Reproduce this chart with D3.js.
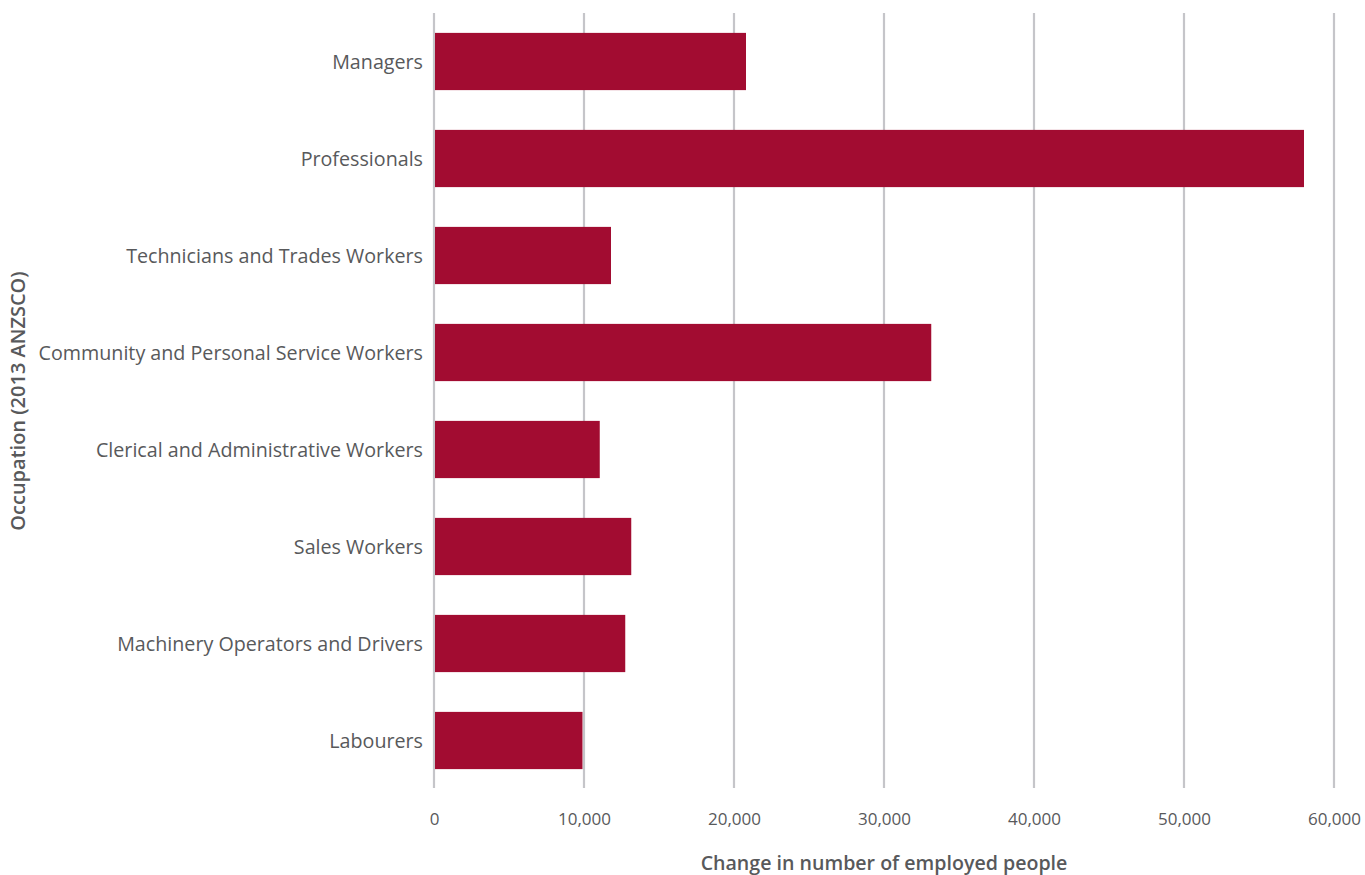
<!DOCTYPE html>
<html>
<head>
<meta charset="utf-8">
<script src="https://cdn.jsdelivr.net/npm/d3@7"></script>
<style>
  html, body { margin: 0; padding: 0; background: #fff; }
  svg { display: block; }
  text { font-family: "Open Sans", Lato, sans-serif; fill: #58595b; }
</style>
</head>
<body>
<svg id="chart" width="1365" height="875"></svg>
<script>
const categories = [
  "Managers",
  "Professionals",
  "Technicians and Trades Workers",
  "Community and Personal Service Workers",
  "Clerical and Administrative Workers",
  "Sales Workers",
  "Machinery Operators and Drivers",
  "Labourers"
];
const values = [20800, 58000, 11800, 33150, 11050, 13150, 12750, 9900];
const xTicks = [0, 10000, 20000, 30000, 40000, 50000, 60000];
const xTitle = "Change in number of employed people";
const yTitle = "Occupation (2013 ANZSCO)";

(function () {
const svg = d3.select("#chart");
const mLeft = 434, mRight = 1334, mTop = 13, mBottom = 789;
const FONT = "'Open Sans', Lato, sans-serif";

const x = d3.scaleLinear().domain([0, 60000]).range([mLeft, mRight]);
const y = d3.scaleBand().domain(categories).range([mTop, mBottom])
  .paddingInner(0.41).paddingOuter(0.205);

// gridlines
svg.append("g").selectAll("line").data(xTicks).join("line")
  .attr("x1", d => x(d)).attr("x2", d => x(d))
  .attr("y1", mTop).attr("y2", mBottom - 1)
  .attr("stroke", "#c5c5c9").attr("stroke-width", 2.2);

// bars
svg.append("g").selectAll("rect").data(categories).join("rect")
  .attr("x", x(0) + 1)
  .attr("y", d => y(d))
  .attr("width", (d, i) => x(values[i]) - x(0) - 1)
  .attr("height", y.bandwidth())
  .attr("fill", "#a20c31");

// x axis labels
const xAxis = d3.axisBottom(x).tickValues(xTicks).tickSize(0).tickPadding(0)
  .tickFormat(d3.format(","));
const gx = svg.append("g").attr("transform", `translate(0, ${mBottom + 24})`).call(xAxis);
gx.select(".domain").remove();
gx.selectAll("text").attr("font-size", 17).attr("font-family", FONT)
  .attr("fill", "#58595b").attr("dy", "0.71em");

// y axis labels
const yAxis = d3.axisLeft(y).tickSize(0).tickPadding(11);
const gy = svg.append("g").attr("transform", `translate(${mLeft}, 0)`).call(yAxis);
gy.select(".domain").remove();
gy.selectAll("text").attr("font-size", 19.7).attr("font-family", FONT)
  .attr("fill", "#58595b").attr("dy", "0.4em");

// titles
svg.append("text")
  .attr("x", (mLeft + mRight) / 2).attr("y", 870)
  .attr("text-anchor", "middle")
  .attr("font-size", 19.6).attr("font-weight", 600)
  .text(xTitle);

svg.append("text")
  .attr("transform", `translate(25, ${(mTop + mBottom) / 2}) rotate(-90)`)
  .attr("text-anchor", "middle")
  .attr("font-size", 20).attr("font-weight", 600)
  .text(yTitle);
})();
</script>
</body>
</html>
